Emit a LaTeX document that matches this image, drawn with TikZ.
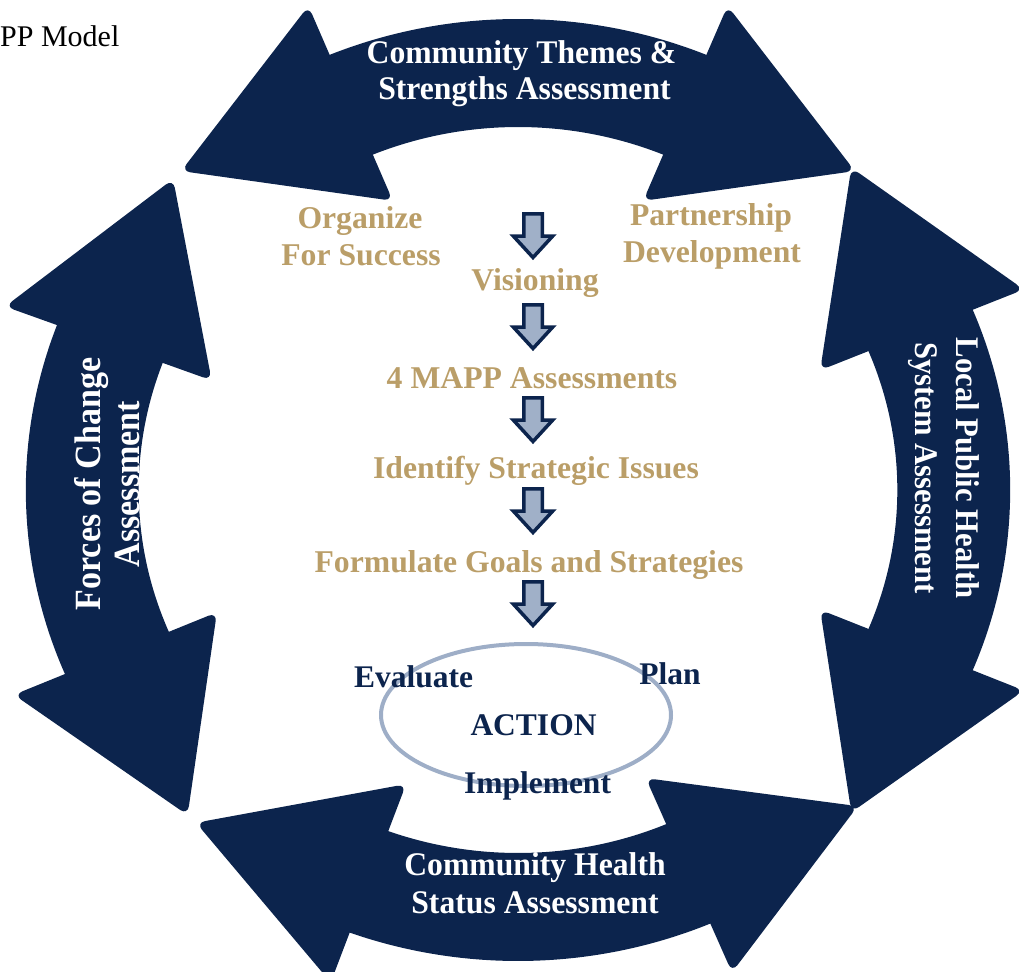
\documentclass[tikz,border=0pt]{standalone}
\usepackage{fontspec}
\usepackage{graphicx}
\setmainfont{Liberation Serif}
\definecolor{navy}{RGB}{12,36,77}
\definecolor{gold}{RGB}{186,158,104}
\definecolor{steel}{RGB}{160,176,200}
\definecolor{ellcol}{RGB}{158,174,199}
\newcommand\ringarrow[2]{%
  \fill[ringband] ({#1-0.6}:471) arc[start angle={#1-0.6}, end angle={#2+0.6}, radius=471]
     -- ({#2+0.6}:363) arc[start angle={#2+0.6}, end angle={#1-0.6}, radius=363] -- cycle;
  \fill[ringhead] (#2:524) -- ({#2+22.8}:453.5) -- (#2:313) -- cycle;
  \fill[ringhead] (#1:524) -- ({#1-22.8}:453.5) -- (#1:313) -- cycle;
}
\newcommand\downblock[1]{%
  \draw[downblk] (523.75,#1+1.75) -- (542.25,#1+1.75) -- (542.25,#1+24) -- (552.75,#1+24)
     -- (533,#1+45.5) -- (513.25,#1+24) -- (523.75,#1+24) -- cycle;
}
\begin{document}
\begin{tikzpicture}[x=1pt,y=-1pt,
  ringband/.style={fill=navy},
  ringhead/.style={fill=navy, rounded corners=9pt},
  downblk/.style={draw=navy, fill=steel, line width=3.5pt, line join=miter},
  wtext/.style={text=white, font=\bfseries\fontsize{33}{36}\selectfont, inner sep=0pt, anchor=base},
  gtext/.style={text=gold, font=\bfseries\fontsize{31.7}{36}\selectfont, inner sep=0pt, anchor=base},
  ntext/.style={text=navy, font=\bfseries\fontsize{31.5}{36}\selectfont, inner sep=0pt, anchor=base}]
\useasboundingbox (0,0) rectangle (1019,971);

% ring of four double-headed arrows
\begin{scope}[shift={(518,490)}, xscale=1.045, yscale=-1]
  \ringarrow{67.5}{112.5}
  \ringarrow{159.5}{203}
  \ringarrow{250}{293}
  \ringarrow{-22.5}{22.5}
\end{scope}

% title fragment
\node[anchor=base west, inner sep=0pt, font=\fontsize{30}{36}\selectfont] (title) at (0,47) {PP Model};

% arrow labels
\node[wtext] (ct1) at (521.5,64) {\scalebox{0.96}[1]{Community Themes \&}};
\node[wtext] (ct2) at (524.5,100) {\scalebox{0.96}[1]{Strengths Assessment}};
\node[wtext] (ch1) at (535,875) {\scalebox{0.96}[1]{Community Health}};
\node[wtext] (ch2) at (535,913) {\scalebox{0.96}[1]{Status Assessment}};
\node[wtext, rotate=90, font=\bfseries\fontsize{37}{40}\selectfont] (fc1) at (100,484) {\scalebox{0.92}[1]{Forces of Change}};
\node[wtext, rotate=90, font=\bfseries\fontsize{37}{40}\selectfont] (fc2) at (139,484) {\scalebox{0.92}[1]{Assessment}};
\node[wtext, rotate=-90] (lp1) at (956,468) {\scalebox{0.93}[1]{Local Public Health}};
\node[wtext, rotate=-90] (lp2) at (915,468) {\scalebox{0.93}[1]{System Assessment}};

% inner process
\node[gtext] (org1) at (360,228) {Organize};
\node[gtext] (org2) at (361,265) {For Success};
\node[gtext] (par1) at (711,225) {Partnership};
\node[gtext] (par2) at (712,262) {Development};
\node[gtext] (vis) at (535,290) {Visioning};
\node[gtext] (mapp) at (532,388) {4 MAPP Assessments};
\node[gtext] (iss) at (536,478) {Identify Strategic Issues};
\node[gtext] (goal) at (529,572) {Formulate Goals and Strategies};

\downblock{212}
\downblock{303}
\downblock{396}
\downblock{487}
\downblock{580}

% action cycle
\draw[ellcol, line width=4pt] (526,715) ellipse[x radius=145, y radius=71];
\node[ntext] (eval) at (413.5,687) {Evaluate};
\node[ntext] (plan) at (670,684) {Plan};
\node[ntext] (act) at (533.5,735) {ACTION};
\node[ntext] (impl) at (537.5,793) {Implement};
\end{tikzpicture}
\end{document}
